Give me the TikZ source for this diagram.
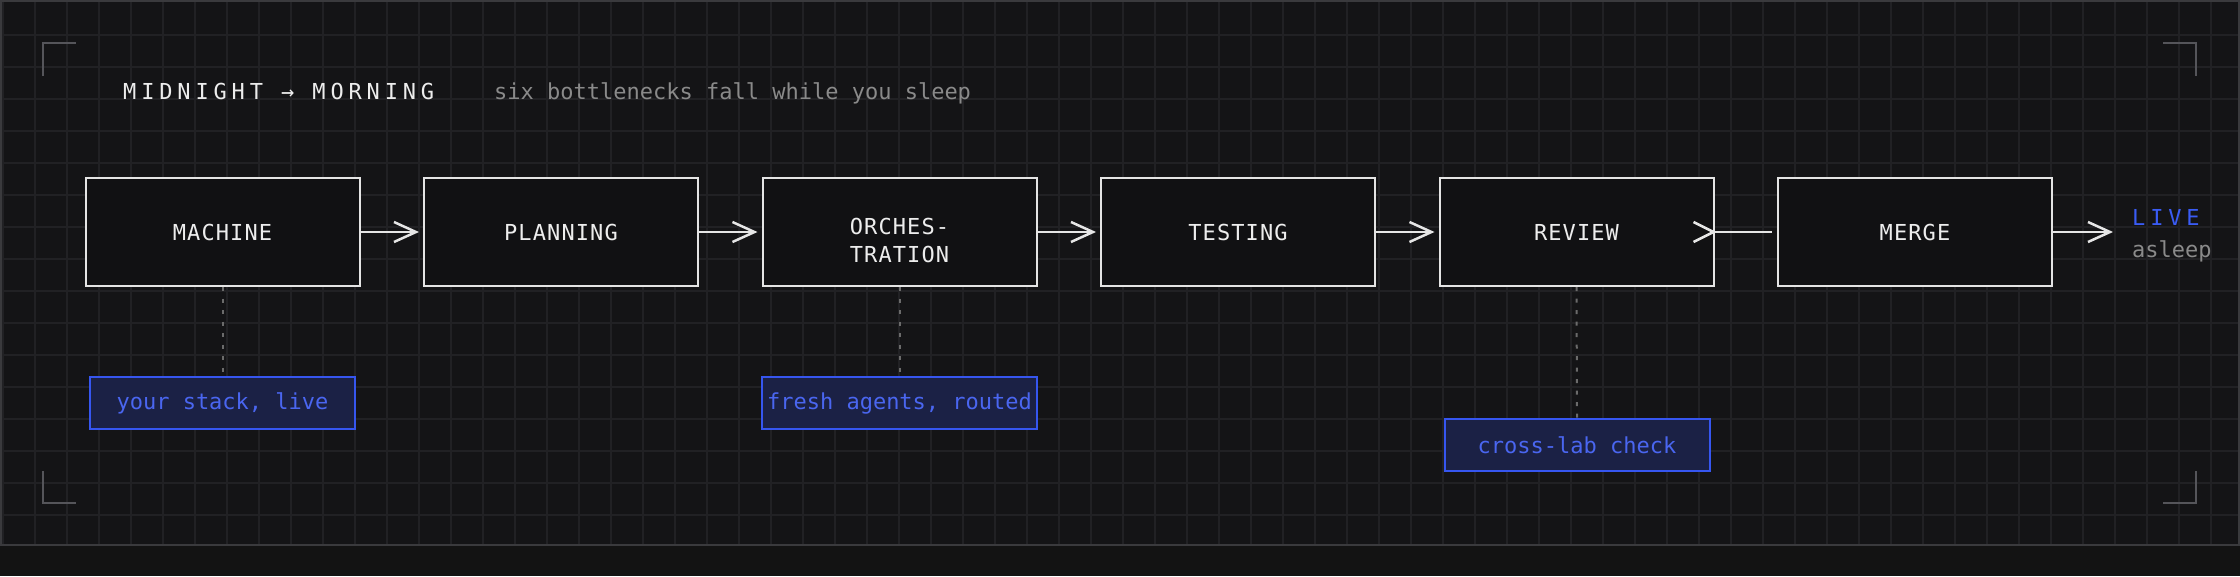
\documentclass[tikz,border=0pt]{standalone}
\usepackage{fontspec}
\usetikzlibrary{arrows.meta}
\newfontfamily\monofont{DejaVu Sans Mono}
\newfontfamily\monowide{DejaVu Sans Mono}[LetterSpace=22]
\newfontfamily\monolab{DejaVu Sans Mono}[LetterSpace=5]
\definecolor{pagebg}{HTML}{131313}
\definecolor{cardbg}{HTML}{141416}
\definecolor{gridcol}{HTML}{212124}
\definecolor{framecol}{HTML}{3A3A3D}
\definecolor{bracketcol}{HTML}{55555A}
\definecolor{boxline}{HTML}{E4E4E4}
\definecolor{boxfill}{HTML}{111113}
\definecolor{labeltext}{HTML}{EDEDED}
\definecolor{arrowcol}{HTML}{E6E6E6}
\definecolor{noteline}{HTML}{3656F0}
\definecolor{notefill}{HTML}{1B2145}
\definecolor{notetext}{HTML}{4A66F0}
\definecolor{livecol}{HTML}{3A5CF5}
\definecolor{subcol}{HTML}{8A8A8A}
\definecolor{conncol}{HTML}{6B6B6B}
\begin{document}
\begin{tikzpicture}[x=1pt,y=-1pt,
  stagebox/.style={draw=boxline, line width=2pt, fill=boxfill, minimum width=274pt,
    minimum height=108pt, inner sep=0pt, text=labeltext,
    font=\monolab\fontsize{22}{28}\selectfont},
  stagelabel/.style={text=labeltext, inner sep=0pt, align=center,
    font=\monolab\fontsize{22}{28}\selectfont},
  notebox/.style={draw=noteline, line width=2pt, fill=notefill, minimum width=265pt,
    minimum height=52pt, inner sep=5pt, text=notetext,
    font=\monofont\fontsize{22}{26}\selectfont},
  flow/.style={draw=arrowcol, line width=2.5pt, -{Straight Barb[length=22pt,width=20pt]}},
  flowline/.style={draw=arrowcol, line width=2.5pt},
  chevron/.style={draw=arrowcol, line width=2.5pt},
  conn/.style={draw=conncol, line width=2pt, dash pattern=on 4pt off 7.5pt},
  gridline/.style={draw=gridcol, line width=1.2pt},
  bracket/.style={draw=bracketcol, line width=2pt},
  titletext/.style={text=labeltext, inner sep=0pt, anchor=base west,
    font=\monowide\fontsize{22}{26}\selectfont},
  subtext/.style={text=subcol, inner sep=0pt, anchor=base west,
    font=\monofont\fontsize{22}{26}\selectfont},
]
\useasboundingbox (0,0) rectangle (2240,576);
\fill[pagebg] (0,0) rectangle (2240,576);
\fill[cardbg] (0,0) rectangle (2240,546);
% grid
\foreach \k in {0,...,69} \draw[gridline] ({3+32*\k},2) -- ({3+32*\k},545);
\foreach \k in {1,...,16} \draw[gridline] (1,{3+32*\k}) -- (2239,{3+32*\k});
% frame
\draw[framecol, line width=2pt] (1,1) rectangle (2239,545);
% corner brackets
\draw[bracket] (43,76) -- (43,43) -- (76,43);
\draw[bracket] (2163,43) -- (2196,43) -- (2196,76);
\draw[bracket] (43,471) -- (43,503) -- (76,503);
\draw[bracket] (2163,503) -- (2196,503) -- (2196,471);
% title
\node[titletext] (title) at (123,99) {MIDNIGHT → MORNING};
\node[subtext] (subtitle) at (494,99) {six bottlenecks fall while you sleep};
% stages
\node[stagebox] (b1) at (222.5,232) {MACHINE};
\node[stagebox] (b2) at (561,232) {PLANNING};
\node[stagebox] (b3) at (899.5,232) {};
\node[stagelabel] (b3l) at ([yshift=-8pt]b3.center) {ORCHES-\\TRATION};
\node[stagebox] (b4) at (1238,232) {TESTING};
\node[stagebox] (b5) at (1576.5,232) {REVIEW};
\node[stagebox] (b6) at (1915,232) {MERGE};
% flow arrows
\draw[flow] (b1.east) -- ([xshift=-4pt]b2.west);
\draw[flow] (b2.east) -- ([xshift=-4pt]b3.west);
\draw[flow] (b3.east) -- ([xshift=-4pt]b4.west);
\draw[flow] (b4.east) -- ([xshift=-4pt]b5.west);
\draw[flowline] (b5.east) -- ([xshift=-5pt]b6.west);
\draw[chevron] ([xshift=-21pt,yshift=10pt]b5.east) -- ([xshift=-1pt]b5.east) -- ([xshift=-21pt,yshift=-10pt]b5.east);
\coordinate (liveend) at (2113,232);
\draw[flow] (b6.east) -- (liveend);
\node[inner sep=0pt, anchor=base west, text=livecol, font=\monowide\fontsize{22}{26}\selectfont] (live) at (2132,225) {LIVE};
\node[subtext] (asleep) at (2132,257) {asleep};
% notes
\node[notebox] (n1) at (222.5,403) {your stack, live};
\node[notebox] (n2) at (899.5,403) {fresh agents, routed};
\node[notebox] (n3) at (1577,445) {cross-lab check};
\draw[conn] (b1.south) -- (n1.north);
\draw[conn] (b3.south) -- (n2.north);
\draw[conn] (b5.south) -- (n3.north);
\end{tikzpicture}
\end{document}
